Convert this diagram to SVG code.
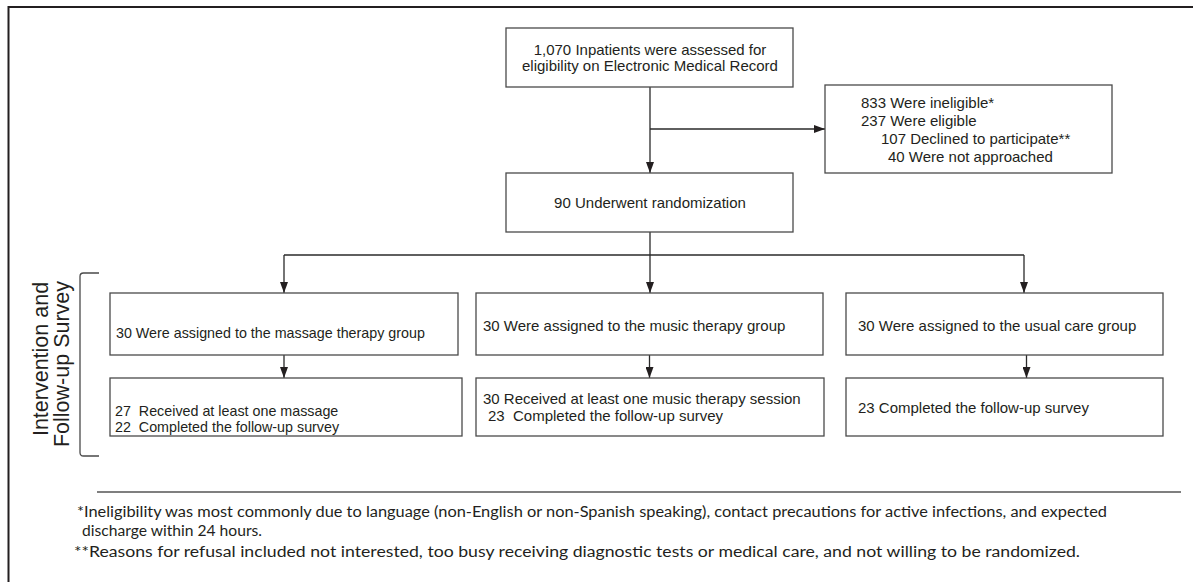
<svg xmlns="http://www.w3.org/2000/svg" width="1193" height="582" viewBox="0 0 1193 582">
<style>
.box{fill:#fff;stroke:#4a4a4a;stroke-width:1.3}
.t{font-family:"Liberation Sans",Arial,sans-serif;font-size:15px;fill:#231f20}
.ts{font-family:"Liberation Sans",Arial,sans-serif;font-size:14.3px;fill:#231f20}
.c{fill:none;stroke:#2a2a2a;stroke-width:1.3}
.fn{font-family:Lato,"Open Sans",sans-serif;font-size:15.5px;fill:#231f20}
.side{font-family:"Liberation Sans",Arial,sans-serif;font-size:21.5px;fill:#231f20}
</style>
<defs>
<marker id="ah" markerUnits="userSpaceOnUse" markerWidth="11" markerHeight="8" refX="11" refY="4" orient="auto">
<path d="M0,0 L11,4 L0,8 z" fill="#231f20"/>
</marker>
</defs>
<rect width="1193" height="582" fill="#fff"/>
<path d="M8.5,582 V7 H1193" fill="none" stroke="#231f20" stroke-width="2"/>

<g id="connectors">
<path class="c" d="M650,87 V173" marker-end="url(#ah)"/>
<path class="c" d="M650,129 H825" marker-end="url(#ah)"/>
<path class="c" d="M650,232 V255"/>
<path class="c" d="M284,255 H1024"/>
<path class="c" d="M284,255 V293" marker-end="url(#ah)"/>
<path class="c" d="M650,255 V293" marker-end="url(#ah)"/>
<path class="c" d="M1024,255 V293" marker-end="url(#ah)"/>
<path class="c" d="M284,355 V378" marker-end="url(#ah)"/>
<path class="c" d="M649.5,355 V378" marker-end="url(#ah)"/>
<path class="c" d="M1026.5,355 V378" marker-end="url(#ah)"/>
</g>

<g id="assessed">
<rect class="box" x="506" y="28" width="287" height="59"/>
<text class="t" x="650" y="55" text-anchor="middle">1,070 Inpatients were assessed for</text>
<text class="t" x="650" y="71" text-anchor="middle">eligibility on Electronic Medical Record</text>
</g>

<g id="excluded">
<rect class="box" x="825" y="85" width="287" height="88"/>
<text class="t" x="861" y="108">833 Were ineligible*</text>
<text class="t" x="861" y="126">237 Were eligible</text>
<text class="t" x="881" y="144">107 Declined to participate**</text>
<text class="t" x="888" y="162">40 Were not approached</text>
</g>

<g id="randomized">
<rect class="box" x="506" y="173" width="287" height="59"/>
<text class="t" x="650" y="208" text-anchor="middle">90 Underwent randomization</text>
</g>

<g id="massage">
<rect class="box" x="110" y="293" width="348" height="62"/>
<text class="ts" x="116" y="338">30 Were assigned to the massage therapy group</text>
</g>
<g id="music">
<rect class="box" x="476" y="293" width="347" height="62"/>
<text class="t" x="483" y="331">30 Were assigned to the music therapy group</text>
</g>
<g id="usual">
<rect class="box" x="846" y="293" width="317" height="62"/>
<text class="t" x="858" y="331">30 Were assigned to the usual care group</text>
</g>

<g id="massage-out">
<rect class="box" x="110" y="378" width="352" height="58"/>
<text class="ts" x="115" y="416" xml:space="preserve">27  Received at least one massage</text>
<text class="ts" x="115" y="432" xml:space="preserve">22  Completed the follow-up survey</text>
</g>
<g id="music-out">
<rect class="box" x="476" y="378" width="348" height="58"/>
<text class="t" x="483" y="404">30 Received at least one music therapy session</text>
<text class="t" x="488" y="421" xml:space="preserve">23  Completed the follow-up survey</text>
</g>
<g id="usual-out">
<rect class="box" x="846" y="378" width="317" height="58"/>
<text class="t" x="858" y="413">23 Completed the follow-up survey</text>
</g>

<g id="phase">
<path d="M99,273 H83.5 Q80,273 80,276.5 V452.5 Q80,456 83.5,456 H99" fill="none" stroke="#4a4a4a" stroke-width="1.3"/>
<text class="side" transform="translate(48,359) rotate(-90)" text-anchor="middle">Intervention and</text>
<text class="side" transform="translate(69,364) rotate(-90)" text-anchor="middle">Follow-up Survey</text>
</g>

<g id="footnotes">
<path d="M97,492 H1181" stroke="#555" stroke-width="1.3"/>
<text class="fn" x="77" y="517" textLength="1030" lengthAdjust="spacingAndGlyphs">*Ineligibility was most commonly due to language (non-English or non-Spanish speaking), contact precautions for active infections, and expected</text>
<text class="fn" x="82" y="536" textLength="180" lengthAdjust="spacingAndGlyphs">discharge within 24 hours.</text>
<text class="fn" x="74" y="557" textLength="1006" lengthAdjust="spacingAndGlyphs">**Reasons for refusal included not interested, too busy receiving diagnostic tests or medical care, and not willing to be randomized.</text>
</g>
</svg>
